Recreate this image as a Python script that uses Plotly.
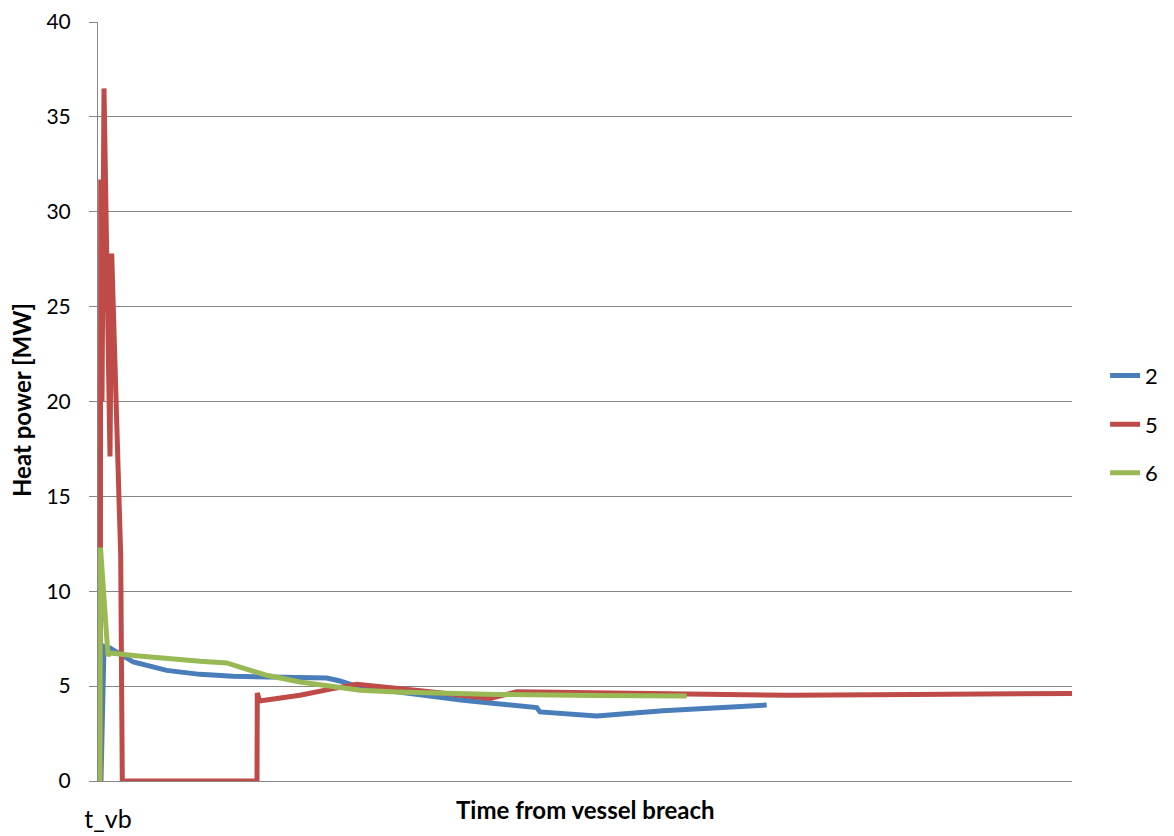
import plotly.graph_objects as go

# Time axis in arbitrary units from vessel breach (t_vb = 0)
t_2 = [3, 6, 12, 35.3, 68.7, 102, 135, 168.7, 202, 228.7, 242, 255, 298.7, 365, 438.7, 442, 498.7, 565, 668.7]
p_2 = [0, 7.1, 7.0, 6.27, 5.83, 5.62, 5.52, 5.48, 5.48, 5.43, 5.27, 5.05, 4.7, 4.26, 3.87, 3.64, 3.42, 3.7, 4.0]

t_5 = [2.3, 2.7, 4, 6, 12, 13.7, 22.7, 24.3, 159, 159.3, 161.5, 202, 235, 258.7, 332, 392, 418.7, 498.7, 598.7, 692, 815, 974]
p_5 = [0, 31.7, 20, 36.5, 17.1, 27.8, 11.9, 0, 0, 4.64, 4.22, 4.52, 4.87, 5.1, 4.7, 4.35, 4.7, 4.64, 4.57, 4.52, 4.56, 4.61]

t_6 = [2, 2.5, 10, 12, 35.3, 68.7, 102, 128.7, 142, 168.7, 202, 235, 262, 298.7, 398.7, 498.7, 588.7]
p_6 = [0, 12.3, 6.6, 6.75, 6.62, 6.45, 6.31, 6.22, 6.0, 5.57, 5.22, 4.96, 4.78, 4.69, 4.56, 4.5, 4.48]

series_names = ["2", "5", "6"]
series_colors = ["#4A7EBB", "#BE4B48", "#98B954"]

x_tick_vals = [0]
x_tick_text = ["t_vb"]
y_ticks = [0, 5, 10, 15, 20, 25, 30, 35, 40]

FONT = "Lato, 'Open Sans', sans-serif"

fig = go.Figure()
for i, (tx, py) in enumerate([(t_2, p_2), (t_5, p_5), (t_6, p_6)]):
    fig.add_trace(go.Scatter(
        x=tx, y=py, mode="lines", name=series_names[i],
        legendgroup=series_names[i],
        line=dict(color=series_colors[i], width=5),
    ))

fig.update_layout(
    width=1174, height=836,
    margin=dict(l=98, r=102, t=22, b=55, autoexpand=False),
    paper_bgcolor="white", plot_bgcolor="white",
    font=dict(family=FONT, size=21, color="black"),
    showlegend=True,
    legend=dict(
        x=1.034, xanchor="left", y=0.47, yanchor="middle",
        traceorder="grouped", tracegroupgap=17,
        font=dict(family=FONT, size=22, color="black"),
        bgcolor="rgba(0,0,0,0)",
    ),
    annotations=[
        dict(
            text="<b>Time from vessel breach</b>", xref="paper", yref="paper",
            x=0.5, y=-0.037, xanchor="center", yanchor="middle",
            showarrow=False, font=dict(family=FONT, size=24, color="black"),
        ),
        dict(
            text="<b>Heat power [MW]</b>", xref="paper", yref="paper",
            x=-0.078, y=0.502, xanchor="center", yanchor="middle", textangle=-90,
            showarrow=False, font=dict(family=FONT, size=24, color="black"),
        ),
    ],
)

fig.update_xaxes(
    range=[0, 974], tickmode="array", tickvals=x_tick_vals, ticktext=x_tick_text,
    showgrid=False, zeroline=False, showline=True, linecolor="#868686", linewidth=1,
    ticks="", ticklabelstandoff=16, ticklabelshift=10,
    tickfont=dict(family=FONT, size=25, color="black"),
)
fig.update_yaxes(
    range=[0, 40], tickmode="array", tickvals=y_ticks,
    showgrid=True, gridcolor="#868686", gridwidth=1,
    zeroline=False, showline=True, linecolor="#868686", linewidth=1,
    ticks="outside", ticklen=8, tickcolor="#868686",
    ticklabelstandoff=14,
    tickfont=dict(family=FONT, size=21, color="black"),
)

fig.write_html("out.html")
